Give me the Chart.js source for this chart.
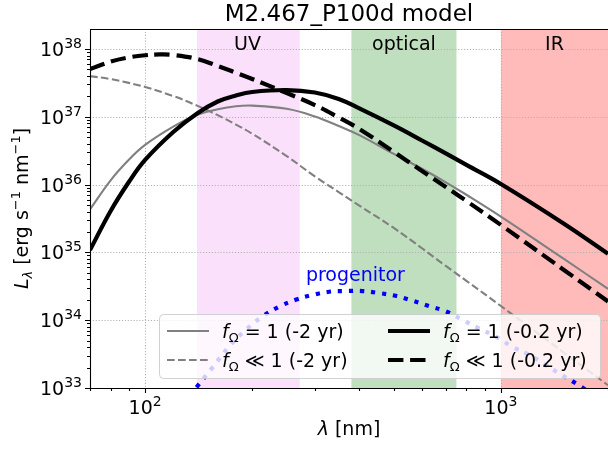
<!DOCTYPE html>
<html>
<head>
<meta charset="utf-8">
<script src="https://cdn.jsdelivr.net/npm/chart.js@4.4.0/dist/chart.umd.min.js"></script>
<style>
  html, body { margin: 0; padding: 0; background: #fff; }
  #wrap { width: 608px; height: 449px; }
</style>
</head>
<body>
<div id="wrap"><canvas id="sed"></canvas></div>
<script>
// wavelengths in nm, luminosities in erg/s/nm
const wlGrid = [70, 80, 90, 100, 120, 140, 160, 180, 200, 250, 300, 350, 400, 500, 600, 700, 800, 1000, 1500, 2000];

const lumGrey = [4.30e35, 1.156e36, 2.32e36, 3.84e36, 7.14e36, 1.07e37, 1.29e37, 1.43e37, 1.46e37, 1.31e37, 1.01e37, 7.31e36, 5.36e36, 2.83e36, 1.71e36, 1.08e36, 7.08e35, 3.37e35, 8.07e34, 2.90e34];

const lumGreyDash = [3.98e37, 3.60e37, 3.16e37, 2.75e37, 2.02e37, 1.46e37, 1.057e37, 7.67e36, 5.62e36, 2.63e36, 1.32e36, 7.76e35, 4.90e35, 2.29e35, 1.15e35, 6.31e34, 3.80e34, 1.62e34, 3.35e33, 1.10e33];

const lumBlack = [1.08e35, 4.08e35, 1.09e36, 2.31e36, 5.97e36, 1.12e37, 1.68e37, 2.06e37, 2.32e37, 2.48e37, 2.28e37, 1.83e37, 1.33e37, 7.45e36, 4.47e36, 2.88e36, 1.95e36, 1.02e36, 2.67e35, 9.57e34];

const wlBlackDash = [70, 80, 90, 100, 110, 120, 140, 160, 180, 200, 250, 300, 350, 400, 500, 600, 700, 800, 1000, 1500, 2000];
const lumBlackDash = [5.07e37, 6.50e37, 7.50e37, 8.08e37, 8.30e37, 8.16e37, 7.13e37, 5.61e37, 4.46e37, 3.61e37, 2.24e37, 1.49e37, 9.77e36, 6.61e36, 3.03e36, 1.59e36, 9.23e35, 5.73e35, 2.54e35, 5.56e34, 1.89e34];

const wlProg = [128, 140, 154, 172, 192, 213, 238, 265, 294, 329, 366, 408, 454, 506, 562, 628, 700, 777, 867, 966, 1075, 1199, 1335, 1484, 1655, 1850];
const lumProg = [5.6e32, 1.05e33, 1.95e33, 4.07e33, 7.24e33, 1.12e34, 1.58e34, 2.0e34, 2.34e34, 2.63e34, 2.69e34, 2.69e34, 2.51e34, 2.29e34, 1.95e34, 1.62e34, 1.35e34, 1.02e34, 7.59e33, 5.75e33, 4.07e33, 3.09e33, 2.19e33, 1.55e33, 1.1e33, 7.4e32];

const bandNames = ['UV', 'optical', 'IR'];
const bandStart = [140, 380, 1000];
const bandEnd = [272, 750, 2200];
const bandLabelAt = [194, 534, 1414];

const legendRel = ['= 1', '\u226A 1', '= 1', '\u226A 1'];
const legendEpoch = ['(-2 yr)', '(-2 yr)', '(-0.2 yr)', '(-0.2 yr)'];

const xTicksMajor = [100, 1000];
const yTicksMajor = [1e33, 1e34, 1e35, 1e36, 1e37, 1e38];

const FONT = '"DejaVu Sans", sans-serif';
const bandColors = ['rgba(238,130,238,0.25)', 'rgba(0,128,0,0.25)', 'rgba(255,0,0,0.27)'];

function pts(xs, ys) {
  return xs.map((x, i) => ({ x: x, y: ys[i] }));
}

function drawRich(ctx, runs, x, y, align) {
  let w = 0;
  runs.forEach(r => { ctx.font = r.font; r.w = ctx.measureText(r.text).width; w += r.w; });
  let cx = x;
  if (align === 'center') cx = x - w / 2;
  if (align === 'right') cx = x - w;
  runs.forEach(r => {
    ctx.font = r.font;
    ctx.fillText(r.text, cx, y + (r.dy || 0));
    cx += r.w;
  });
  return w;
}

function tenPow(exp, size) {
  return [
    { text: '10', font: size + 'px ' + FONT },
    { text: String(exp), font: Math.round(size * 0.72) + 'px ' + FONT, dy: -size * 0.42 }
  ];
}

const backdrop = {
  id: 'backdrop',
  beforeDatasetsDraw(chart) {
    const { ctx, chartArea: a, scales: { x, y } } = chart;
    ctx.save();
    bandStart.forEach((s, i) => {
      const x0 = Math.max(x.getPixelForValue(s), a.left);
      const x1 = Math.min(x.getPixelForValue(bandEnd[i]), a.right);
      ctx.fillStyle = bandColors[i];
      ctx.fillRect(x0, a.top, x1 - x0, a.bottom - a.top);
    });
    // dotted grid
    ctx.strokeStyle = '#b0b0b0';
    ctx.lineWidth = 1.1;
    ctx.setLineDash([1.1, 1.8]);
    xTicksMajor.forEach(v => {
      const px = Math.round(x.getPixelForValue(v)) + 0.5;
      ctx.beginPath(); ctx.moveTo(px, a.top); ctx.lineTo(px, a.bottom); ctx.stroke();
    });
    yTicksMajor.forEach(v => {
      const py = Math.round(y.getPixelForValue(v)) + 0.5;
      ctx.beginPath(); ctx.moveTo(a.left, py); ctx.lineTo(a.right, py); ctx.stroke();
    });
    ctx.setLineDash([]);
    // band names
    ctx.fillStyle = '#000';
    ctx.textAlign = 'center';
    ctx.textBaseline = 'alphabetic';
    ctx.font = '19px ' + FONT;
    bandNames.forEach((n, i) => {
      ctx.fillText(n, x.getPixelForValue(bandLabelAt[i]), a.top + 21);
    });
    ctx.restore();
  }
};

const frame = {
  id: 'frame',
  afterDatasetsDraw(chart) {
    const { ctx, chartArea: a, scales: { x, y } } = chart;
    ctx.save();
    ctx.textAlign = 'left';
    ctx.textBaseline = 'alphabetic';

    // progenitor label
    ctx.fillStyle = '#0000ff';
    ctx.font = '19px ' + FONT;
    ctx.textAlign = 'center';
    ctx.fillText('progenitor', x.getPixelForValue(390), y.getPixelForValue(4.8e34) + 7);
    ctx.textAlign = 'left';

    // spines
    ctx.strokeStyle = '#000';
    ctx.lineWidth = 1.1;
    ctx.beginPath();
    ctx.moveTo(a.left + 0.5, a.top); ctx.lineTo(a.left + 0.5, a.bottom + 0.5);
    ctx.lineTo(a.right, a.bottom + 0.5);
    ctx.moveTo(a.left, a.top + 0.5); ctx.lineTo(a.right, a.top + 0.5);
    ctx.stroke();

    // ticks
    ctx.beginPath();
    for (let d = 10; d <= 1000; d *= 10) {
      for (let m = 1; m <= 9; m++) {
        const v = m * d;
        if (v < x.min || v > x.max) continue;
        const px = Math.round(x.getPixelForValue(v)) + 0.5;
        const len = m === 1 ? 5 : 3;
        ctx.moveTo(px, a.bottom); ctx.lineTo(px, a.bottom + len);
      }
    }
    for (let d = 1e33; d <= 1e38; d *= 10) {
      for (let m = 1; m <= 9; m++) {
        const v = m * d;
        if (v < y.min || v > y.max) continue;
        const py = Math.round(y.getPixelForValue(v)) + 0.5;
        const len = m === 1 ? 5 : 3;
        ctx.moveTo(a.left, py); ctx.lineTo(a.left - len, py);
      }
    }
    ctx.stroke();

    // tick labels
    ctx.fillStyle = '#000';
    yTicksMajor.forEach(v => {
      const exp = Math.round(Math.log10(v));
      drawRich(ctx, tenPow(exp, 19), a.left - 8, y.getPixelForValue(v) + 7, 'right');
    });
    xTicksMajor.forEach(v => {
      const exp = Math.round(Math.log10(v));
      drawRich(ctx, tenPow(exp, 19), x.getPixelForValue(v), a.bottom + 26, 'center');
    });

    // axis labels
    drawRich(ctx, [
      { text: '\u03BB', font: 'italic 19px ' + FONT },
      { text: ' [nm]', font: '19px ' + FONT }
    ], (a.left + a.right) / 2, 435, 'center');

    ctx.save();
    ctx.translate(28, (a.top + a.bottom) / 2);
    ctx.rotate(-Math.PI / 2);
    drawRich(ctx, [
      { text: 'L', font: 'italic 19px ' + FONT },
      { text: '\u03BB', font: 'italic 13px ' + FONT, dy: 4 },
      { text: ' [erg s', font: '19px ' + FONT },
      { text: '\u22121', font: '13px ' + FONT, dy: -8 },
      { text: ' nm', font: '19px ' + FONT },
      { text: '\u22121', font: '13px ' + FONT, dy: -8 },
      { text: ']', font: '19px ' + FONT }
    ], 0, 0, 'center');
    ctx.restore();

    // title
    ctx.font = '23px ' + FONT;
    ctx.textAlign = 'center';
    ctx.fillText('M2.467_P100d model', (a.left + a.right) / 2, 21);
    ctx.textAlign = 'left';

    // legend
    const bx = 159.5, by = 314.5, bw = 441, bh = 64;
    ctx.fillStyle = 'rgba(255,255,255,0.8)';
    ctx.strokeStyle = 'rgba(204,204,204,0.9)';
    ctx.lineWidth = 1;
    ctx.beginPath();
    ctx.roundRect(bx, by, bw, bh, 4);
    ctx.fill();
    ctx.stroke();

    const colX = [167, 388];
    const rowY = [331, 360];
    [0, 1, 2, 3].forEach(i => {
      const ds = chart.data.datasets[i];
      const col = Math.floor(i / 2), row = i % 2;
      const lx = colX[col], ly = rowY[row];
      ctx.strokeStyle = ds.borderColor;
      ctx.lineWidth = ds.borderWidth;
      ctx.setLineDash(ds.borderDash || []);
      ctx.beginPath(); ctx.moveTo(lx, ly); ctx.lineTo(lx + 42, ly); ctx.stroke();
      ctx.setLineDash([]);
      ctx.fillStyle = '#000';
      drawRich(ctx, [
        { text: 'f', font: 'italic 19px ' + FONT },
        { text: '\u03A9', font: '13px ' + FONT, dy: 4 },
        { text: ' ' + legendRel[i] + ' ' + legendEpoch[i], font: '19px ' + FONT }
      ], lx + 55, ly + 7, 'left');
    });
    ctx.restore();
  }
};

new Chart(document.getElementById('sed'), {
  type: 'line',
  data: {
    datasets: [
      { label: 'f=1 (-2 yr)', data: pts(wlGrid, lumGrey), borderColor: '#808080', borderWidth: 2.1, order: 2 },
      { label: 'f<<1 (-2 yr)', data: pts(wlGrid, lumGreyDash), borderColor: '#808080', borderWidth: 2.1, borderDash: [7.7, 3.3], order: 2 },
      { label: 'f=1 (-0.2 yr)', data: pts(wlGrid, lumBlack), borderColor: '#000000', borderWidth: 4.2, order: 1 },
      { label: 'f<<1 (-0.2 yr)', data: pts(wlBlackDash, lumBlackDash), borderColor: '#000000', borderWidth: 4.2, borderDash: [15.4, 6.7], order: 1 },
      { label: 'progenitor', data: pts(wlProg, lumProg), borderColor: '#0000ff', borderWidth: 4.2, borderDash: [4.2, 6.9], order: 3 }
    ]
  },
  options: {
    responsive: true,
    maintainAspectRatio: false,
    animation: false,
    events: [],
    layout: { padding: { left: 90, top: 29, right: 0, bottom: 61 } },
    elements: {
      point: { radius: 0 },
      line: { fill: false, tension: 0.4 }
    },
    plugins: { legend: { display: false }, tooltip: { enabled: false } },
    scales: {
      x: { type: 'logarithmic', min: 70, max: 2000, display: false },
      y: { type: 'logarithmic', min: 1e33, max: 1.97e38, display: false }
    }
  },
  plugins: [backdrop, frame]
});
</script>
</body>
</html>
